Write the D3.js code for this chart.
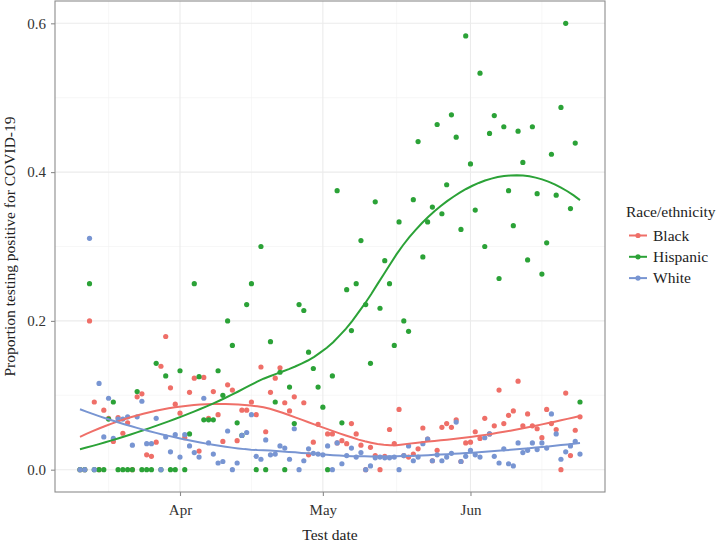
<!DOCTYPE html>
<html><head><meta charset="utf-8">
<script src="https://cdn.jsdelivr.net/npm/d3@7"></script>
<style>
body{margin:0;background:#fff}
svg{display:block}
text{font-family:"Liberation Serif","DejaVu Serif",serif}
</style>
</head><body>
<svg id="c" width="726" height="545"></svg>
<script>
// ---- data ----
const startDate = "2020-03-11"; // day index 0
const groups = ["Black", "Hispanic", "White"];
const colors = ["#EF6F68", "#2BA237", "#7895D2"];
const black = [0, 0, 0.200, 0.091, 0, 0.080, 0.069, 0.038, 0.070, 0.049,
  0.063, 0, 0.098, 0.102, 0.020, 0.018, 0.037, 0.139, 0.179, 0.110,
  0.088, 0.076, 0.043, 0.104, 0.123, 0.025, 0.124, 0.069, 0.105, 0.074,
  0.038, 0.114, 0.107, 0.039, 0.080, 0.080, 0.091, 0.074, 0.138, 0.051,
  0.104, 0.123, 0.137, 0.090, 0.079, 0.098, null, 0.090, 0.020, 0.037,
  0.061, null, 0.048, 0.048, 0.036, 0.039, 0.035, 0.062, 0.048, 0.033,
  0, 0.030, 0.019, 0, 0.018, 0.054, 0.035, 0.081, 0.019, 0.017,
  0.021, 0.028, 0.056, 0.041, 0.012, 0.026, 0.057, 0.062, 0.057, 0.067,
  0.011, 0.036, 0.037, 0.051, 0.042, 0.069, 0.048, 0.059, 0.107, 0.062,
  0.073, 0.079, 0.119, 0.059, 0.075, 0.059, 0.055, 0.043, 0.081, 0.062,
  0.054, 0, 0.103, 0.019, 0.053, 0.071];
const hispanic = [0, 0, 0.250, 0, 0, 0, 0.068, 0.091, 0, 0,
  0, 0, 0.105, 0, 0, 0, 0.143, 0, 0.126, 0,
  0, 0.133, 0, 0.048, 0.250, 0.125, 0.067, 0.067, 0.067, 0.133,
  0.100, 0.200, 0.167, 0.063, 0.046, 0.222, 0.250, 0, 0.300, 0,
  0.172, 0.091, 0.131, 0, 0.111, 0.062, 0.222, 0.214, 0.158, 0.136,
  0.111, 0.084, 0, 0.126, 0.375, 0.063, 0.242, 0.187, 0.250, 0.308,
  0.222, 0.143, 0.360, 0.217, 0.281, 0.250, 0.167, 0.333, 0.200, 0.186,
  0.363, 0.441, 0.286, 0.333, 0.353, 0.464, 0.344, 0.383, 0.477, 0.447,
  0.323, 0.583, 0.411, 0.349, 0.533, 0.300, 0.452, 0.476, 0.257, 0.461,
  0.375, 0.328, 0.455, 0.413, 0.282, 0.461, 0.371, 0.263, 0.305, 0.424,
  0.369, 0.487, 0.600, 0.351, 0.439, 0.091];
const white = [0, 0, 0.311, 0, 0.116, 0.044, 0.096, 0.042, 0.068, 0.068,
  0.071, 0.033, 0.071, 0.092, 0.035, 0.035, 0.069, 0, 0.044, 0.024,
  0.047, 0.017, 0.047, 0.032, 0.023, 0.017, 0.096, 0.036, 0.021, 0.009,
  0.011, 0.052, 0, 0.009, 0.046, 0.050, 0.074, 0.018, 0.014, 0.040,
  0.020, 0.021, 0.032, 0.029, 0.014, 0.055, 0, 0.012, 0.028, 0.022,
  0.021, 0.020, 0.032, 0, 0.036, 0.008, 0.019, 0.029, 0.017, 0.023,
  0, 0.005, 0.016, 0.017, 0.016, 0.016, 0.017, 0, 0.019, 0.032,
  0.012, 0.017, 0.035, 0.041, 0.012, 0.020, 0.012, 0.017, 0.022, 0.064,
  0.011, 0.018, 0.026, 0.020, 0.017, 0.043, 0.048, 0.018, 0.009, 0.028,
  0.008, 0.005, 0.036, 0.023, 0.026, 0.036, 0.027, 0.036, 0.029, 0.075,
  0.048, 0.014, 0.024, 0.032, 0.038, 0.021];
const xTicks = ["2020-04-01", "2020-05-01", "2020-06-01"];
const xMinor = ["2020-03-17", "2020-04-16", "2020-05-16T12:00", "2020-06-16"];
const yTicks = [0, 0.2, 0.4, 0.6];
const yMinor = [0.1, 0.3, 0.5];
const seriesValues = [black, hispanic, white];

// ---- helpers ----
const DAY = 864e5;
const t0 = new Date(startDate + "T00:00:00");
const dayToDate = d => new Date(t0.getTime() + d * DAY);
const parse = s => new Date(s.length > 10 ? s : s + "T00:00:00");

function loess(xs, ys, xout, span) {
  const n = xs.length, q = Math.floor(n * span);
  return xout.map(x0 => {
    const d = xs.map(x => Math.abs(x - x0));
    const h = d.slice().sort((a, b) => a - b)[q - 1] * 1.0000001;
    let S = Array.from({length: 3}, () => [0, 0, 0]), B = [0, 0, 0];
    for (let i = 0; i < n; i++) {
      const u = d[i] / h; if (u >= 1) continue;
      const w = Math.pow(1 - u * u * u, 3);
      const dx = xs[i] - x0, v = [1, dx, dx * dx];
      for (let a = 0; a < 3; a++) { B[a] += w * v[a] * ys[i]; for (let b = 0; b < 3; b++) S[a][b] += w * v[a] * v[b]; }
    }
    const M = S.map((r, i) => [...r, B[i]]);
    for (let c = 0; c < 3; c++) {
      let p = c; for (let r = c + 1; r < 3; r++) if (Math.abs(M[r][c]) > Math.abs(M[p][c])) p = r;
      [M[c], M[p]] = [M[p], M[c]];
      for (let r = c + 1; r < 3; r++) { const f = M[r][c] / M[c][c]; for (let k = c; k < 4; k++) M[r][k] -= f * M[c][k]; }
    }
    const sol = [0, 0, 0];
    for (let r = 2; r >= 0; r--) { let s = M[r][3]; for (let k = r + 1; k < 3; k++) s -= M[r][k] * sol[k]; sol[r] = s / M[r][r]; }
    return sol[0];
  });
}

// ---- layout ----
const svg = d3.select("#c");
const P = {l: 55, r: 605, t: 1, b: 492};
const nDays = black.length - 1;
const padDays = nDays * 0.05;
const x = d3.scaleTime().domain([dayToDate(-padDays), dayToDate(nDays + padDays)]).range([P.l, P.r]);
const y = d3.scaleLinear().domain([-0.03, 0.63]).range([P.b, P.t]);

svg.append("rect").attr("width", 726).attr("height", 545).attr("fill", "#fff");

const grid = svg.append("g");
yMinor.forEach(v => grid.append("line").attr("x1", P.l).attr("x2", P.r).attr("y1", y(v)).attr("y2", y(v)).attr("stroke", "#f2f2f2").attr("stroke-width", 0.6));
xMinor.forEach(s => grid.append("line").attr("y1", P.t).attr("y2", P.b).attr("x1", x(parse(s))).attr("x2", x(parse(s))).attr("stroke", "#f2f2f2").attr("stroke-width", 0.6));
yTicks.forEach(v => grid.append("line").attr("x1", P.l).attr("x2", P.r).attr("y1", y(v)).attr("y2", y(v)).attr("stroke", "#ebebeb").attr("stroke-width", 1.1));
xTicks.forEach(s => grid.append("line").attr("y1", P.t).attr("y2", P.b).attr("x1", x(parse(s))).attr("x2", x(parse(s))).attr("stroke", "#ebebeb").attr("stroke-width", 1.1));

svg.append("clipPath").attr("id", "clip").append("rect").attr("x", P.l).attr("y", P.t).attr("width", P.r - P.l).attr("height", P.b - P.t);
const plot = svg.append("g").attr("clip-path", "url(#clip)");

groups.forEach((g, gi) => {
  const pts = seriesValues[gi].map((v, i) => ({d: i, v})).filter(p => p.v !== null);
  plot.append("g").selectAll("circle").data(pts).join("circle")
    .attr("cx", p => x(dayToDate(p.d))).attr("cy", p => y(p.v)).attr("r", 2.6).attr("fill", colors[gi]);
});
groups.forEach((g, gi) => {
  const pts = seriesValues[gi].map((v, i) => ({d: i, v})).filter(p => p.v !== null);
  const xs = pts.map(p => p.d), ys = pts.map(p => p.v);
  const xo = d3.range(80).map(i => xs[0] + (xs[xs.length - 1] - xs[0]) * i / 79);
  const fit = loess(xs, ys, xo, 0.75);
  const line = d3.line().x(d => x(dayToDate(d[0]))).y(d => y(d[1]));
  plot.append("path").datum(xo.map((d, i) => [d, fit[i]])).attr("d", line)
    .attr("fill", "none").attr("stroke", colors[gi]).attr("stroke-width", 2);
});

svg.append("rect").attr("x", P.l).attr("y", P.t).attr("width", P.r - P.l).attr("height", P.b - P.t)
  .attr("fill", "none").attr("stroke", "#8c8c8c").attr("stroke-width", 1.1);

const xAxis = d3.axisBottom(x).tickValues(xTicks.map(parse)).tickFormat(d3.timeFormat("%b")).tickSize(4).tickPadding(8);
const gx = svg.append("g").attr("transform", `translate(0,${P.b})`).call(xAxis);
const yAxis = d3.axisLeft(y).tickValues(yTicks).tickFormat(d3.format(".1f")).tickSize(4).tickPadding(5);
const gy = svg.append("g").attr("transform", `translate(${P.l},0)`).call(yAxis);
[gx, gy].forEach(g => {
  g.attr("font-family", null);
  g.select(".domain").remove();
  g.selectAll(".tick line").attr("stroke", "#8c8c8c").attr("stroke-width", 1.1);
  g.selectAll(".tick text").attr("font-size", 15).attr("fill", "#333");
});

svg.append("text").attr("x", (P.l + P.r) / 2).attr("y", 540).attr("text-anchor", "middle")
  .attr("font-size", 15.5).attr("fill", "#222").text("Test date");
svg.append("text").attr("transform", `translate(15,${(P.t + P.b) / 2}) rotate(-90)`).attr("text-anchor", "middle")
  .attr("font-size", 15.5).attr("fill", "#222").text("Proportion testing positive for COVID-19");

const lg = svg.append("g").attr("transform", "translate(626,0)");
lg.append("text").attr("x", 0).attr("y", 217).attr("font-size", 15.5).attr("fill", "#222").text("Race/ethnicity");
groups.forEach((g, gi) => {
  const cy = 235.5 + gi * 21.3;
  lg.append("line").attr("x1", 3).attr("x2", 21).attr("y1", cy).attr("y2", cy).attr("stroke", colors[gi]).attr("stroke-width", 2);
  lg.append("circle").attr("cx", 12).attr("cy", cy).attr("r", 2.6).attr("fill", colors[gi]);
  lg.append("text").attr("x", 27).attr("y", cy + 5).attr("font-size", 15.5).attr("fill", "#222").text(g);
});
</script>
</body></html>
